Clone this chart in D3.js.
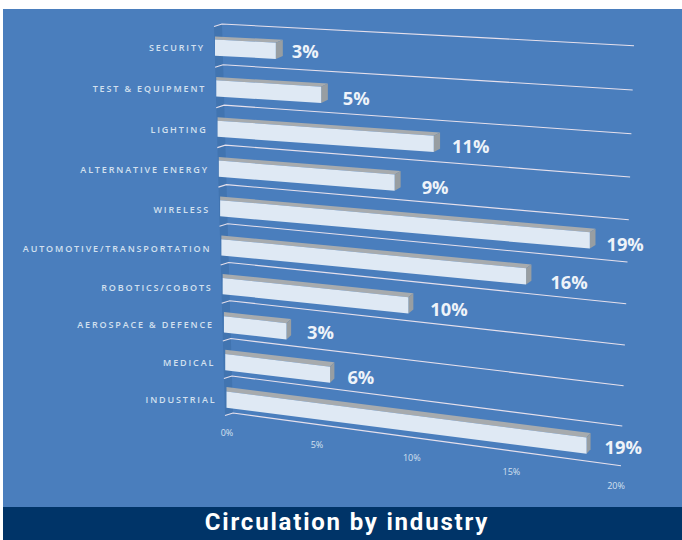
<!DOCTYPE html>
<html><head><meta charset="utf-8">
<script src="https://cdn.jsdelivr.net/npm/d3@7"></script>
<style>html,body{margin:0;padding:0;background:#fff}svg{display:block}</style>
</head><body><svg id="c" width="682" height="540"></svg>
<script>
const categories = ["SECURITY","TEST & EQUIPMENT","LIGHTING","ALTERNATIVE ENERGY","WIRELESS","AUTOMOTIVE/TRANSPORTATION","ROBOTICS/COBOTS","AEROSPACE & DEFENCE","MEDICAL","INDUSTRIAL"];
const shareValues = [3.2,5.5,11.1,9.2,18.6,15.7,9.95,3.5,5.85,18.95];
const shareLabels = ["3%","5%","11%","9%","19%","16%","10%","3%","6%","19%"];
const axisTicks = [0,5,10,15,20];
const title = "Circulation by industry";

// ---- layout (projection of the tilted 3D plot) ----
const svg = d3.select("#c");
const wallXL = d3.scaleLinear([0,10],[222,233]);
const wallXR = d3.scaleLinear([0,10],[634,621]);
const wallYL = r => 24+41*r-.21*r*r;
const wallYR = r => 45.7+44.5*r-.25*r*r;
const barLeft = d3.scaleLinear([0,9],[215,226.5]);
const barSpan = d3.scaleLinear([0,9],[415,382]);
const depthX = d3.scaleLinear([0,9],[7,4]);
const depthY = d3.scaleLinear([0,9],[3,4.5]);
const barH = 16.2;
const u = d3.scaleLinear([0,20],[0,1]);
const persp = v => u(v)*(.9+.1*u(v));
const xPos = (i,v) => barLeft(i)+barSpan(i)*persp(v);
const slope = i => (wallYR(i)-wallYL(i))/(wallXR(i)-wallXL(i));
const yTop = (i,x) => wallYL(i)+15.5+slope(i)*(x-barLeft(i));
const catY = i => 47.5+41.6*i-.28*i*i;
const tickX = d3.scaleLinear([0,1],[227,616]);
const tickY = d3.scaleLinear([0,1],[436,489]);
const labelGap = [9,15,12,21,11,19,17,16,13,14];
const labelMid = [51,98,146,187,244,282,309,332,377,447];
const poly = d3.line();

svg.append("rect").attr("x",3).attr("y",9).attr("width",679).attr("height",498).attr("fill","#4a7ebd");
svg.append("rect").attr("x",3).attr("y",507).attr("width",679).attr("height",33).attr("fill","#003468");

// left wall
svg.append("path").attr("fill","#4174b0").attr("d",poly([
  [wallXL(0)-8,wallYL(0)+2],[wallXL(0),wallYL(0)],[wallXL(10),wallYL(10)],[wallXL(10)-8,wallYL(10)+2]])+"Z");

// gridlines
d3.range(0,11).forEach(r=>{
  svg.append("path").attr("fill","none").attr("stroke","#e6e0ec").attr("stroke-width",1.1)
    .attr("d",poly([[wallXL(r)-8,wallYL(r)+2.5],[wallXL(r),wallYL(r)],[wallXR(r),wallYR(r)]]));
});

// bars
shareValues.forEach((v,i)=>{
  const x0=barLeft(i), x1=xPos(i,v), dx=depthX(i), dy=depthY(i);
  const y0=yTop(i,x0), y1=yTop(i,x1);
  svg.append("path").attr("fill","#a7abae").attr("d",poly([[x0,y0],[x0,y0-dy],[x1+dx,y1-dy],[x1,y1]])+"Z");
  svg.append("path").attr("fill","#989ea2").attr("d",poly([[x1,y1],[x1+dx,y1-dy],[x1+dx,y1-dy+barH],[x1,y1+barH]])+"Z");
  svg.append("path").attr("fill","#dfe9f4").attr("d",poly([[x0,y0],[x1,y1],[x1,y1+barH],[x0,y0+barH]])+"Z");
  svg.append("text").attr("x",x1+dx+labelGap[i]).attr("y",labelMid[i]+7)
    .attr("font-family","Open Sans").attr("font-weight",700).attr("font-size",18.3)
    .attr("fill","#eef3f9").text(shareLabels[i]);
  svg.append("text").attr("x",barLeft(i)-10).attr("y",catY(i)+3.5).attr("text-anchor","end")
    .attr("font-family","Open Sans").attr("font-weight",600).attr("font-size",9).attr("letter-spacing",1.85)
    .attr("fill","#d3e0ef").text(categories[i]);
});

// value axis tick labels
axisTicks.forEach(t=>{
  svg.append("text").attr("x",tickX(persp(t))).attr("y",tickY(persp(t))).attr("text-anchor","middle")
    .attr("font-family","Open Sans").attr("font-size",9).attr("fill","#d3e0ef").text(t+"%");
});

svg.append("text").attr("x",347).attr("y",530).attr("text-anchor","middle")
  .attr("font-family","Roboto").attr("font-weight",700).attr("font-size",24).attr("letter-spacing",1.8)
  .attr("fill","#fff").text(title);
</script></body></html>
